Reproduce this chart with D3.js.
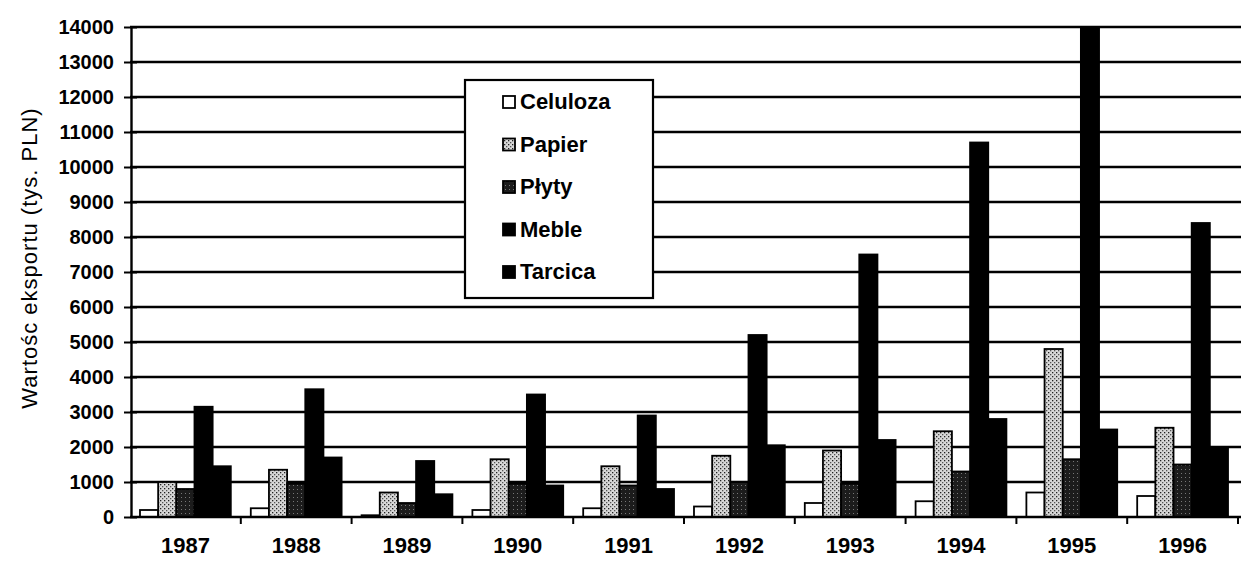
<!DOCTYPE html>
<html><head><meta charset="utf-8">
<script src="https://cdn.jsdelivr.net/npm/d3@7"></script>
<style>body{margin:0;background:#fff}svg{display:block}</style>
</head><body>
<svg id="c" width="1241" height="565"></svg>
<script>
const years = ["1987","1988","1989","1990","1991","1992","1993","1994","1995","1996"];
const seriesNames = ["Celuloza","Papier","Płyty","Meble","Tarcica"];
const celuloza = [200, 250, 50, 200, 250, 300, 400, 450, 700, 600];
const papier   = [1000, 1350, 700, 1650, 1450, 1750, 1900, 2450, 4800, 2550];
const plyty    = [800, 950, 400, 950, 900, 1000, 950, 1300, 1650, 1500];
const meble    = [3150, 3650, 1600, 3500, 2900, 5200, 7500, 10700, 14000, 8400];
const tarcica  = [1450, 1700, 650, 900, 800, 2050, 2200, 2800, 2500, 1950];
const yTicks = [0,1000,2000,3000,4000,5000,6000,7000,8000,9000,10000,11000,12000,13000,14000];
const yTitle = "Wartośc eksportu (tys. PLN)";

const values = [celuloza, papier, plyty, meble, tarcica];
const svg = d3.select("#c");
const defs = svg.append("defs");
const p1 = defs.append("pattern").attr("id","papier").attr("width",4).attr("height",4).attr("patternUnits","userSpaceOnUse");
p1.append("rect").attr("width",4).attr("height",4).attr("fill","#d8d8d8");
p1.append("rect").attr("x",0).attr("y",0).attr("width",1.3).attr("height",1.3).attr("fill","#222");
p1.append("rect").attr("x",2).attr("y",2).attr("width",1.3).attr("height",1.3).attr("fill","#555");
const p2 = defs.append("pattern").attr("id","plyty").attr("width",4).attr("height",4).attr("patternUnits","userSpaceOnUse");
p2.append("rect").attr("width",4).attr("height",4).attr("fill","#1c1c1c");
p2.append("rect").attr("x",1).attr("y",1).attr("width",1).attr("height",1).attr("fill","#777");
const fills = ["#ffffff","url(#papier)","url(#plyty)","#000","#000"];
const FONT = "Liberation Sans, Arial, sans-serif";

const x0 = d3.scaleBand().domain(years).range([130, 1238]).paddingInner(0).paddingOuter(0);
const x1 = d3.scaleBand().domain(seriesNames).range([0, x0.bandwidth()]).paddingInner(0).paddingOuter(0.55);
const y = d3.scaleLinear().domain([0, 14000]).range([517, 27]);

// gridlines
svg.append("g").selectAll("line").data(yTicks.filter(d=>d>0)).join("line")
  .attr("x1",130).attr("x2",1241).attr("y1",d=>y(d)).attr("y2",d=>y(d))
  .attr("stroke","#000").attr("stroke-width",2.6);

// bars
const g = svg.append("g");
years.forEach((yr,i)=>{
  seriesNames.forEach((s,j)=>{
    const v = values[j][i];
    g.append("rect")
      .attr("x", x0(yr)+x1(s)).attr("width", x1.bandwidth())
      .attr("y", y(v)).attr("height", y(0)-y(v))
      .attr("fill", fills[j]).attr("stroke","#000").attr("stroke-width",1.8);
  });
});

// y axis
const yAxis = d3.axisLeft(y).tickValues(yTicks).tickSize(0).tickPadding(17).tickFormat(d3.format("d"));
const ya = svg.append("g").attr("transform","translate(131,0)").call(yAxis);
ya.select(".domain").attr("stroke","#000").attr("stroke-width",2.4);
ya.selectAll("text").attr("font-family",FONT).attr("font-weight","bold").attr("font-size","20px").attr("fill","#000");
ya.selectAll(".tick").append("line").attr("x1",-7).attr("x2",6).attr("stroke","#000").attr("stroke-width",2);

// x axis
const xAxis = d3.axisBottom(x0).tickSize(0).tickPadding(20);
const xa = svg.append("g").attr("transform","translate(0,517)").call(xAxis);
xa.select(".domain").remove();
svg.append("line").attr("x1",130).attr("x2",1241).attr("y1",y(0)).attr("y2",y(0)).attr("stroke","#000").attr("stroke-width",2.6);
xa.selectAll("text").attr("font-family",FONT).attr("font-weight","bold").attr("font-size","22px").attr("fill","#000");
xa.append("g").selectAll("line").data(years).join("line")
  .attr("x1",d=>x0(d)+x0.bandwidth()).attr("x2",d=>x0(d)+x0.bandwidth())
  .attr("y1",0).attr("y2",7).attr("stroke","#000").attr("stroke-width",2);

// y title
svg.append("text").attr("transform","translate(37,258) rotate(-90)")
  .attr("text-anchor","middle").attr("font-family",FONT)
  .attr("font-size","22px").attr("letter-spacing","1px").attr("fill","#000").text(yTitle);

// legend
const lg = svg.append("g");
lg.append("rect").attr("x",465).attr("y",80).attr("width",188).attr("height",218)
  .attr("fill","#fff").attr("stroke","#000").attr("stroke-width",2.2);
seriesNames.forEach((s,j)=>{
  const cy = 102 + j*42.5;
  lg.append("rect").attr("x",503).attr("y",cy-6).attr("width",12).attr("height",12)
    .attr("fill",fills[j]).attr("stroke","#000").attr("stroke-width",1.8);
  lg.append("text").attr("x",520).attr("y",cy+7).attr("font-family",FONT)
    .attr("font-weight","bold").attr("font-size","22px").attr("fill","#000").text(s);
});
</script>
</body></html>
